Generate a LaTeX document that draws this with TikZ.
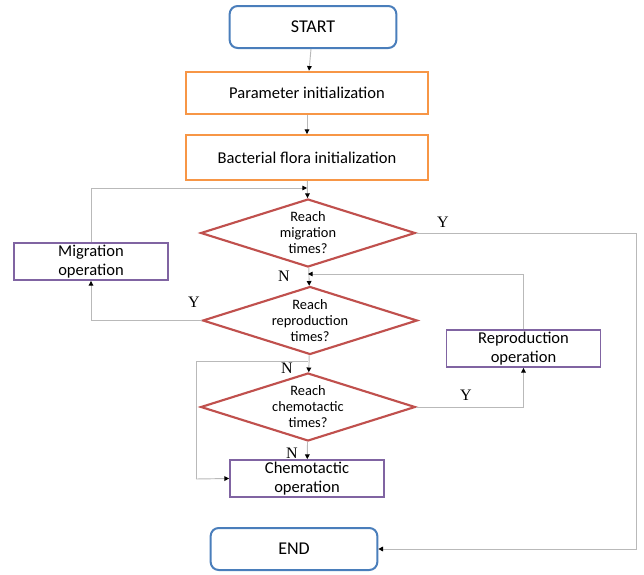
\documentclass[tikz,border=0pt]{standalone}
\usepackage{fontspec}
\setmainfont{Carlito}
\newfontfamily\ynfont{Liberation Serif}
\definecolor{termblue}{RGB}{74,126,187}
\definecolor{initorange}{RGB}{247,150,70}
\definecolor{opviolet}{RGB}{128,100,162}
\definecolor{askred}{RGB}{192,80,77}
\definecolor{wiregray}{RGB}{185,185,185}
\usetikzlibrary{calc, positioning, arrows.meta, shapes.geometric}

\begin{document}
\begin{tikzpicture}[x=0.75pt, y=-0.75pt,
  term/.style={draw=termblue, line width=1.5pt, rounded corners=6pt,
    minimum width=125pt, minimum height=31.5pt, font=\fontsize{13.5}{15}\selectfont},
  initbox/.style={draw=initorange, line width=1.4pt, minimum width=181.5pt,
    minimum height=32pt, font=\fontsize{12.4}{14}\selectfont},
  opbox/.style={draw=opviolet, line width=1.4pt, minimum width=115.5pt,
    minimum height=27.75pt, inner sep=0pt, align=center,
    font=\fontsize{12.4}{14}\selectfont},
  ask/.style={diamond, draw=askred, line width=1.6pt, aspect=3.16, inner sep=0pt,
    minimum width=161pt, minimum height=51pt, align=center,
    font=\fontsize{10.8}{12}\selectfont},
  link/.style={wiregray, line width=0.7pt,
    -{Triangle[length=3.5pt, width=3.5pt, color=black]}},
  wire/.style={wiregray, line width=0.7pt},
  yn/.style={font=\ynfont\fontsize{12}{12}\selectfont},
]
  \useasboundingbox (0,0) rectangle (644,575);

  % main column
  \node[term] (start) at (313,27) {START};
  \node[initbox] (param) at (307,93) {Parameter initialization};
  \node[initbox, minimum height=33.75pt] (flora) at (307,157.5) {Bacterial flora initialization};
  \node[ask] (askmig) at (308,233) {Reach\\migration\\times?};
  \node[ask] (askrep) at (310,320.5) {Reach\\reproduction\\times?};
  \node[ask] (askchem) at (308,407) {Reach\\chemotactic\\times?};
  \node[opbox] (chem) at (307,478.5) {Chemotactic\\operation};
  \node[term] (finish) at (294,549) {END};

  % side boxes
  \node[opbox] (mig) at (91,261.5) {Migration\\operation};
  \node[opbox] (rep) at (523.5,348.5) {Reproduction\\operation};

  % joints on the wires
  \coordinate (migin) at (307,188);
  \coordinate (repin) at (308,274);
  \coordinate (chemsplit) at (308,361);
  \coordinate (lft) at (196,479);
  \coordinate (rgt) at (636,233);

  \draw[link] (start) -- (param);
  \draw[link] (param) -- (flora);
  \draw[link] (flora) -- (askmig);
  \draw[link] (askmig) -- (askrep);
  \draw[link] (askrep) -- (askchem);
  \draw[link] (askchem) -- (chem);

  \draw[link] (mig.north) |- (migin);
  \draw[link] (rep.north) |- (repin);
  \draw[link] (askrep.west) -| (mig.south);
  \draw[link] (askchem.east) -| (rep.south);
  \draw[wire] (chemsplit) -| (lft);
  \draw[link] (lft) -- (chem.west);
  \draw[wire] (askmig.east) -- (rgt);
  \draw[link] (rgt) |- (finish.east);

  % branch labels
  \node[yn] at (443,222) {Y};
  \node[yn] at (284,276) {N};
  \node[yn] at (194,302) {Y};
  \node[yn] at (287,368) {N};
  \node[yn] at (466,395) {Y};
  \node[yn] at (292,453) {N};
\end{tikzpicture}
\end{document}
